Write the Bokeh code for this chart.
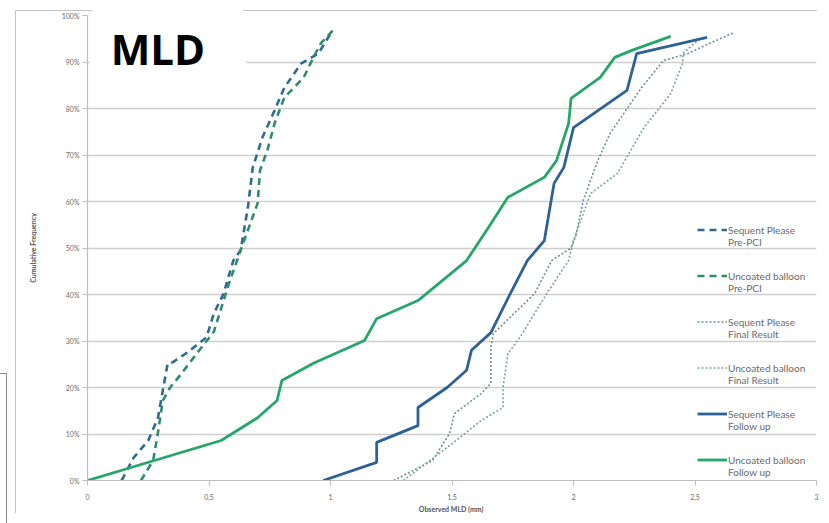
from bokeh.plotting import figure
from bokeh.models import (Range1d, FixedTicker, NumeralTickFormatter, Legend, LegendItem,
                          Label, InlineStyleSheet)
from bokeh.embed import file_html
from bokeh.resources import INLINE

# ---- data (x = observed MLD in mm, y = cumulative frequency) ----
sp_pre_x = [0.14, 0.19, 0.25, 0.29, 0.31, 0.33, 0.35, 0.41, 0.49, 0.52, 0.56, 0.60, 0.63, 0.66, 0.68, 0.72, 0.77, 0.81, 0.88, 0.95, 1.00]
sp_pre_y = [0.0, 0.049, 0.086, 0.135, 0.194, 0.252, 0.254, 0.275, 0.308, 0.359, 0.402, 0.473, 0.495, 0.587, 0.673, 0.738, 0.796, 0.845, 0.897, 0.918, 0.961]

ub_pre_x = [0.22, 0.27, 0.29, 0.31, 0.34, 0.37, 0.46, 0.52, 0.55, 0.58, 0.63, 0.70, 0.71, 0.74, 0.77, 0.81, 0.85, 0.89, 0.93, 0.96, 1.01]
ub_pre_y = [0.0, 0.043, 0.103, 0.172, 0.200, 0.219, 0.280, 0.320, 0.370, 0.420, 0.495, 0.596, 0.667, 0.710, 0.768, 0.824, 0.845, 0.867, 0.910, 0.940, 0.968]

sp_final_x = [1.26, 1.42, 1.49, 1.51, 1.62, 1.66, 1.66, 1.67, 1.84, 1.91, 1.99, 2.01, 2.04, 2.10, 2.15, 2.28, 2.37, 2.47, 2.56, 2.66]
sp_final_y = [0.0, 0.043, 0.101, 0.144, 0.187, 0.209, 0.286, 0.316, 0.402, 0.473, 0.500, 0.527, 0.602, 0.688, 0.746, 0.845, 0.903, 0.918, 0.940, 0.963]

ub_final_x = [1.30, 1.48, 1.62, 1.71, 1.71, 1.73, 1.78, 1.89, 1.98, 2.00, 2.07, 2.18, 2.29, 2.40, 2.45, 2.45, 2.51]
ub_final_y = [0.0, 0.071, 0.129, 0.157, 0.200, 0.273, 0.308, 0.402, 0.473, 0.516, 0.617, 0.660, 0.759, 0.832, 0.899, 0.918, 0.946]

sp_fu_x = [0.97, 1.19, 1.19, 1.36, 1.36, 1.48, 1.56, 1.58, 1.66, 1.74, 1.81, 1.88, 1.92, 1.96, 2.00, 2.22, 2.26, 2.55]
sp_fu_y = [0.0, 0.039, 0.082, 0.118, 0.157, 0.200, 0.237, 0.280, 0.318, 0.402, 0.473, 0.516, 0.639, 0.673, 0.759, 0.839, 0.918, 0.953]

ub_fu_x = [0.0, 0.55, 0.70, 0.78, 0.80, 0.93, 1.14, 1.19, 1.36, 1.56, 1.65, 1.73, 1.88, 1.93, 1.98, 1.99, 2.11, 2.17, 2.24, 2.40]
ub_fu_y = [0.0, 0.086, 0.135, 0.172, 0.215, 0.252, 0.301, 0.348, 0.387, 0.473, 0.544, 0.609, 0.652, 0.688, 0.768, 0.822, 0.867, 0.910, 0.925, 0.955]

legend_labels = ["Sequent Please\nPre-PCI", "Uncoated balloon\nPre-PCI",
                 "Sequent Please\nFinal Result", "Uncoated balloon\nFinal Result",
                 "Sequent Please\nFollow up", "Uncoated balloon\nFollow up"]

x_ticks = [0, 0.5, 1, 1.5, 2, 2.5, 3]
x_tick_labels = ["0", "0,5", "1", "1,5", "2", "2,5", "3"]
y_ticks = [0, 0.1, 0.2, 0.3, 0.4, 0.5, 0.6, 0.7, 0.8, 0.9, 1.0]

title_text = "MLD"
x_label = "Observed MLD  (mm)"
y_label = "Cumulative Frequency"

FONT = "Lato"

# faint outer chart-area frame (outside the plot frame), drawn with CSS
css = """
:host { position: relative; }
:host::before {
  content: ""; position: absolute; left: 0px; top: 0px; width: 829px; height: 523px;
  pointer-events: none; z-index: 10;
  background-image: linear-gradient(#c4c4c4, #c4c4c4), linear-gradient(#c4c4c4, #c4c4c4),
                    linear-gradient(#c4c4c4, #c4c4c4), linear-gradient(#8a8a8a, #8a8a8a),
                    linear-gradient(#8a8a8a, #8a8a8a);
  background-size: 1px 503px, 77px 1px, 574px 1px, 1px 150px, 7px 1px;
  background-position: 15px 10px, 15px 10px, 243px 10px, 6px 373px, 0px 373px;
  background-repeat: no-repeat;
}
"""

p = figure(width=829, height=523, output_backend="svg", toolbar_location=None,
           x_range=Range1d(0, 3), y_range=Range1d(0, 1),
           min_border_left=87, min_border_right=13, min_border_top=15, min_border_bottom=43)
p.stylesheets = [InlineStyleSheet(css=css)]
p.outline_line_color = None
p.background_fill_color = "white"
p.border_fill_color = "white"

# grid
p.xgrid.grid_line_color = None
p.ygrid.grid_line_color = "#cfcfcf"
p.ygrid.grid_line_width = 1.5

# axes
p.xaxis.ticker = FixedTicker(ticks=x_ticks)
p.xaxis.major_label_overrides = {t: l for t, l in zip(x_ticks, x_tick_labels)}
p.yaxis.ticker = FixedTicker(ticks=y_ticks)
p.yaxis.formatter = NumeralTickFormatter(format="0%")
for ax in (p.xaxis[0], p.yaxis[0]):
    ax.axis_line_color = "#bdbdbd"
    ax.axis_line_width = 1.2
    ax.major_tick_line_color = "#bdbdbd"
    ax.minor_tick_line_color = None
    ax.major_tick_in = 0
    ax.major_tick_out = 5
    ax.major_label_text_color = "#6a6a6a"
    ax.major_label_text_font = FONT
    ax.major_label_text_font_size = "7px"
    ax.axis_label_text_color = "#555555"
    ax.axis_label_text_font = FONT
    ax.axis_label_text_font_size = "7px"
    ax.axis_label_text_font_style = "bold"
p.xaxis.major_label_standoff = 8
p.yaxis.major_label_standoff = 3
p.xaxis.axis_label = x_label
p.yaxis.axis_label = y_label
p.xaxis.axis_label_standoff = 2
p.yaxis.axis_label_standoff = 22

# series
c_sp_pre = "#2f6b8e"
c_ub_pre = "#2e8c6c"
c_sp_fin = "#6b8f9c"
c_ub_fin = "#7fa394"
c_sp_fu = "#2e6294"
c_ub_fu = "#27a66c"

r1 = p.line(sp_pre_x, sp_pre_y, line_color=c_sp_pre, line_width=2.6, line_dash="7 5")
r2 = p.line(ub_pre_x, ub_pre_y, line_color=c_ub_pre, line_width=2.6, line_dash="7 5")
r3 = p.line(sp_final_x, sp_final_y, line_color=c_sp_fin, line_width=1.6, line_dash="2 2")
r4 = p.line(ub_final_x, ub_final_y, line_color=c_ub_fin, line_width=1.6, line_dash="2 2")
r5 = p.line(sp_fu_x, sp_fu_y, line_color=c_sp_fu, line_width=2.8)
r6 = p.line(ub_fu_x, ub_fu_y, line_color=c_ub_fu, line_width=2.8)

# a blank first line keeps the legend glyph level with the first label line
legend = Legend(items=[LegendItem(label=" \n" + l, renderers=[r]) for l, r in
                       zip(legend_labels, [r1, r2, r3, r4, r5, r6])],
                location=(610, 1), orientation="vertical",
                label_text_font=FONT, label_text_font_size="10px", label_text_color="#6a6a6a",
                label_text_line_height=1.3,
                glyph_width=30, glyph_height=13, label_height=39, spacing=7,
                padding=0, margin=0, border_line_color=None, background_fill_alpha=0,
                label_standoff=1)
p.add_layout(legend)

# white title box with "MLD"
p.add_layout(Label(x=0.331, y=0.95, text=title_text, text_font="Open Sans",
                   text_font_style="bold", text_font_size="42px", text_color="black",
                   text_align="center", text_baseline="middle",
                   background_fill_color="white", background_fill_alpha=1.0,
                   padding=dict(left=21, right=41, top=20, bottom=0), level="overlay"))

open("out.html", "w").write(file_html(p, INLINE))
